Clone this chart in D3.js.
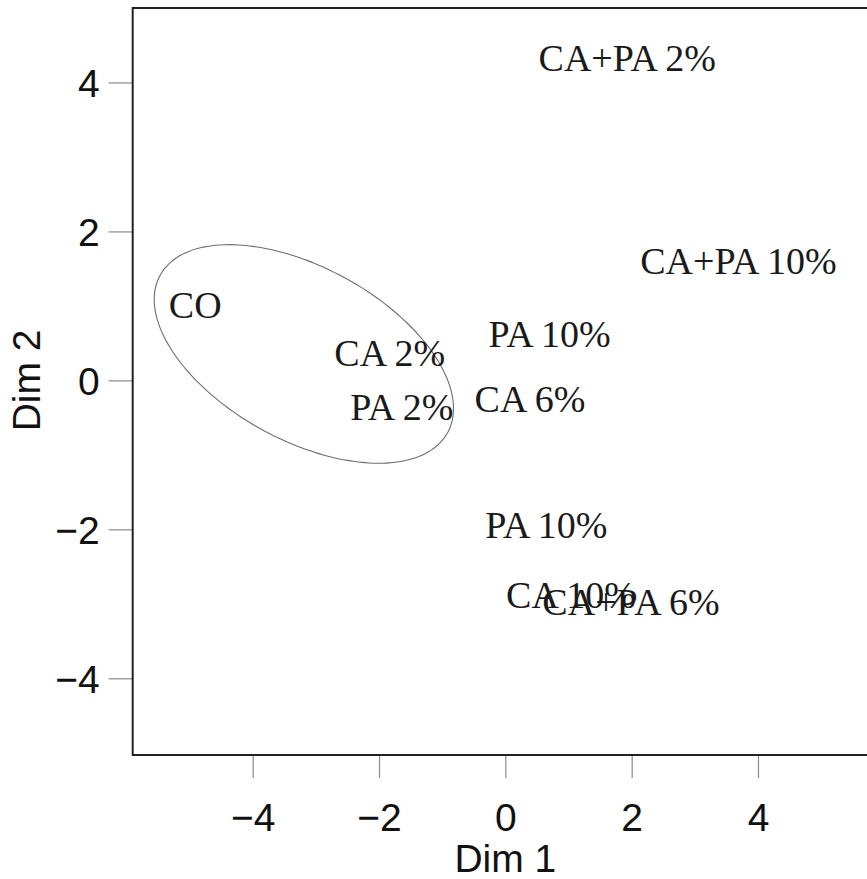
<!DOCTYPE html>
<html>
<head>
<meta charset="utf-8">
<script src="https://cdn.jsdelivr.net/npm/d3@7"></script>
<style>
  html, body { margin: 0; padding: 0; background: #fff; overflow: hidden; }
  #wrap { width: 867px; height: 879px; overflow: hidden; }
  svg { display: block; }
</style>
</head>
<body>
<div id="wrap"><svg id="chart" width="920" height="879"></svg></div>
<script>
// ---- data ----
const labels = ["CA+PA 2%", "CA+PA 10%", "CO", "PA 10%", "CA 2%", "PA 2%", "CA 6%", "PA 10%", "CA 10%", "CA+PA 6%"];
const dim1   = [1.93, 3.69, -4.91, 0.70, -1.83, -1.64, 0.39, 0.65, 1.04, 1.99];
const dim2   = [4.32, 1.60, 1.00, 0.61, 0.36, -0.36, -0.25, -1.95, -2.89, -2.98];
const xTicks = [-4, -2, 0, 2, 4];
const yTicks = [-4, -2, 0, 2, 4];
// confidence ellipse around the CO group: centre and semi-axis vectors (data units)
const ellipseCenter = [-3.19, 0.355];
const ellipseAxisU  = [2.275, -1.058];
const ellipseAxisV  = [-0.661, -1.017];

// ---- layout ----
const svg = d3.select("#chart");
const plot = { left: 132.7, top: 8, right: 878, bottom: 755 };
const x = d3.scaleLinear().domain([-5.9, 5.9]).range([plot.left, plot.right]);
const y = d3.scaleLinear().domain([-5.03, 5.0]).range([plot.bottom, plot.top]);

// x axis
const xAxis = d3.axisBottom(x).tickValues(xTicks).tickSize(23).tickPadding(0)
  .tickFormat(d => d < 0 ? "\u2212" + Math.abs(d) : d);
const gx = svg.append("g").attr("transform", `translate(0,${plot.bottom})`).call(xAxis);
gx.select(".domain").remove();
gx.selectAll(".tick line").attr("stroke", "#8a8a8a").attr("stroke-width", 1.2);
gx.selectAll(".tick text").attr("y", 76).attr("dy", 0)
  .style("font-family", "'Liberation Sans', Arial, sans-serif").style("font-size", "39px").attr("fill", "#111");

// y axis
const yAxis = d3.axisLeft(y).tickValues(yTicks).tickSize(24).tickPadding(0)
  .tickFormat(d => d < 0 ? "\u2212" + Math.abs(d) : d);
const gy = svg.append("g").attr("transform", `translate(${plot.left},0)`).call(yAxis);
gy.select(".domain").remove();
gy.selectAll(".tick line").attr("stroke", "#8a8a8a").attr("stroke-width", 1.2);
gy.selectAll(".tick text").attr("x", -33).attr("dy", "0.36em")
  .style("font-family", "'Liberation Sans', Arial, sans-serif").style("font-size", "39px").attr("fill", "#111");

// axis titles
svg.append("text").attr("x", x(0)).attr("y", 872).attr("text-anchor", "middle")
  .style("font-family", "'Liberation Sans', Arial, sans-serif").style("font-size", "39px").attr("fill", "#111")
  .text("Dim 1");
svg.append("text").attr("transform", `translate(40,${y(0)}) rotate(-90)`).attr("text-anchor", "middle")
  .style("font-family", "'Liberation Sans', Arial, sans-serif").style("font-size", "39px").attr("fill", "#111")
  .text("Dim 2");

// ellipse
const tSteps = d3.range(0, 361, 3).map(d => d * Math.PI / 180);
const ellipsePts = tSteps.map(t => [
  ellipseCenter[0] + ellipseAxisU[0] * Math.cos(t) + ellipseAxisV[0] * Math.sin(t),
  ellipseCenter[1] + ellipseAxisU[1] * Math.cos(t) + ellipseAxisV[1] * Math.sin(t)
]);
svg.append("path")
  .attr("d", d3.line().x(d => x(d[0])).y(d => y(d[1])).curve(d3.curveCardinalClosed)(ellipsePts.slice(0, -1)))
  .attr("fill", "none").attr("stroke", "#6e6e6e").attr("stroke-width", 1.1);

// labels
svg.append("g").selectAll("text").data(labels).join("text")
  .attr("x", (d, i) => x(dim1[i]))
  .attr("y", (d, i) => y(dim2[i]))
  .attr("dy", "0.33em")
  .attr("text-anchor", "middle")
  .style("font-family", "'Liberation Serif', 'Times New Roman', serif")
  .style("font-size", "38px")
  .attr("fill", "#1a1a1a")
  .text(d => d);

// plot box (right edge lies outside the picture, as in the reference)
svg.append("rect").attr("x", plot.left).attr("y", plot.top)
  .attr("width", plot.right - plot.left).attr("height", plot.bottom - plot.top)
  .attr("fill", "none").attr("stroke", "#222").attr("stroke-width", 2);
</script>
</body>
</html>
